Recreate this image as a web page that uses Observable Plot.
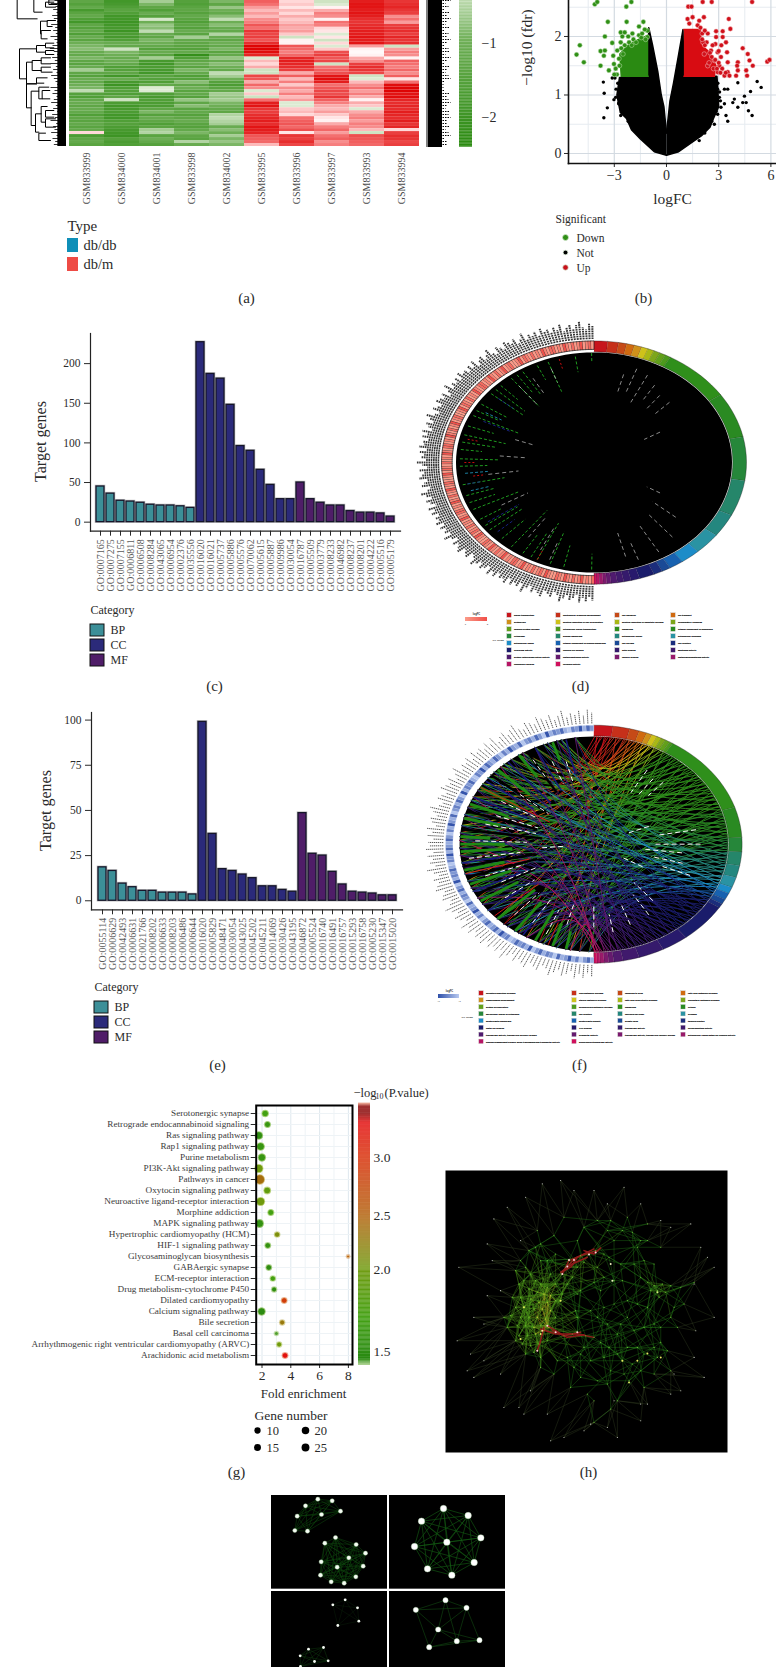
<!DOCTYPE html>
<html><head><meta charset="utf-8">
<script src="https://cdn.jsdelivr.net/npm/d3@7"></script>
<script src="https://cdn.jsdelivr.net/npm/@observablehq/plot@0.6"></script>
<style>
html,body{margin:0;padding:0;background:#fff}
#page{position:relative;width:776px;height:1667px;overflow:hidden;background:#fff}
#page svg{position:absolute;display:block;background:transparent}
</style></head><body><div id="page"></div>
<script>
// ---------- (a) heatmap
const samples=["GSM833999","GSM834000","GSM834001","GSM833998","GSM834002","GSM833995","GSM833996","GSM833997","GSM833993","GSM833994"];
const heat0=[-1.3,-1.5,-1.2,-1.8,-1.4,-1.2,-1.6,-1.9,-1.3,-1.5,-1.2,-1.6,-1.1,-1.4,-1.0,-.9,-.8,-1.1,-1.2,-.9,-1.3,-1.4,-1.1,-.6,-1.3,-1.5,-1.1,-1.2,-1.0,-.9,-.4,-1.5,-1.6,-1.2,-1.1,-1.3,-1.1,-1.2,-1.6,-1.3,-1.4,-1.2,-1.4,-1.2,.3,-1.7,-1.3,-1.2,-1.4];
const heat1=[-1.9,-1.8,-1.6,-1.4,-1.6,-1.9,-1.9,-2.0,-1.9,-1.8,-2.0,-1.7,-1.8,-1.6,-1.1,-1.2,-.3,-.9,-1.0,-1.1,-1.0,-1.2,-1.6,-1.5,-1.3,-1.9,-1.1,-1.8,-2.0,-1.6,-1.5,-1.6,-1.3,-.3,-1.7,-1.9,-1.8,-1.7,-1.9,-1.9,-1.6,-1.5,-1.7,-1.8,-1.9,-2.0,-1.5,-1.7,-1.6];
const heat2=[-.6,-.9,-1.3,-1.6,-1.1,-1.5,-.25,-1.0,-.7,-.8,-.4,-1.1,-1.3,-.9,-1.0,-1.2,-1.5,-1.1,-1.4,-.6,-1.8,-1.9,-1.7,-1.8,-1.9,-1.4,-1.5,-1.6,-1.2,-.2,-.2,-1.6,-1.8,-1.6,-1.7,-1.7,-1.3,-.9,-1.5,-1.1,-1.3,-1.6,-1.4,-.6,-.5,-1.4,-1.0,-1.2,-1.5];
const heat3=[-1.5,-1.6,-1.4,-1.3,-1.5,-1.2,-1.4,-1.6,-1.3,-1.5,-1.1,-1.4,-.6,-1.2,-1.3,-1.4,-1.5,-1.2,-2.2,-1.6,-1.3,-1.1,-1.4,-.9,-1.2,-1.6,-1.5,-.8,-1.3,-1.0,-1.4,-1.2,-1.5,-.7,-1.3,-.8,-1.4,-1.2,-1.5,-1.3,-1.1,-1.4,-1.5,-1.2,-.9,-1.3,-1.4,-.5,-1.1];
const heat4=[-.9,-1.3,-.7,-1.0,-1.2,-.8,-.4,-1.0,-.8,-1.1,-1.2,-.5,-1.1,-1.3,-1.0,-1.2,-.9,-1.4,-1.2,-.7,-1.1,-.8,-1.0,-1.2,-.4,-.6,-1.0,-1.5,-1.7,-1.4,-1.2,-.6,-.7,-.6,-.9,-1.0,-1.2,-1.3,-.5,-.4,-.5,-.6,-1.1,-.8,-1.0,-.6,-.9,-.7,-.9];
const heat5=[1.2,1.0,.7,.5,.7,.5,.8,.9,1.3,1.0,1.7,1.5,1.6,1.3,1.8,2.3,2.3,2.2,1.9,-.2,.5,.3,.6,-.3,-.3,1.5,1.3,.6,1.1,.8,-.2,.4,-.3,1.0,2.0,2.1,1.7,1.6,1.8,1.9,2.0,1.8,2.1,2.0,1.9,1.3,1.2,1.1,.5];
const heat6=[.3,.4,.2,.5,.3,.6,.4,.5,.7,.6,.7,.4,-.3,.1,.1,1.3,1.1,.9,1.1,1.9,2.0,1.9,1.8,1.6,.6,1.2,.5,.9,.4,.8,.6,.9,.5,.7,-.2,-.2,.4,.5,.3,1.0,1.2,1.3,1.1,1.4,.2,1.7,1.6,1.8,1.5];
const heat7=[-.3,-.2,.1,.6,.9,.8,.1,1.0,.9,.3,.2,-.2,.2,-.3,.3,-.2,.4,1.4,1.6,1.3,1.5,-.3,1.0,1.2,1.4,2.1,2.2,2.0,1.0,1.3,1.5,1.4,1.7,1.2,.9,.6,.5,.7,.4,.2,.1,.6,.9,1.1,.7,1.0,1.2,.8,.9];
const heat8=[2.0,2.1,2.1,2.0,2.1,2.0,1.8,1.7,1.8,1.9,2.0,2.0,2.1,2.0,2.1,.7,.1,.05,.1,.6,.8,1.6,1.8,1.7,1.5,-.3,-.2,.5,.8,1.0,.7,.9,.6,.1,.6,.4,-.2,.6,.8,.9,.7,.9,.8,.5,-.3,1.4,1.3,1.2,1.1];
const heat9=[1.7,1.8,1.9,1.7,1.6,.8,1.0,.7,1.6,1.7,1.8,1.6,1.9,1.7,1.8,-.3,.7,.9,.8,.1,1.2,1.0,.9,1.1,.8,1.2,.2,1.0,2.2,2.3,2.3,2.1,2.2,1.9,1.8,1.9,1.8,2.0,1.9,1.8,2.0,1.7,1.9,.3,1.6,1.8,1.7,1.5,1.6];
const heatColumns=[heat0,heat1,heat2,heat3,heat4,heat5,heat6,heat7,heat8,heat9];
// dendrogram brackets: parent height, two rows, two child heights
const dendro=[[50,-5,55,100,110],[100,-5,35,135,125],[120,62,100,140,122],[135,5,20,160,165],[145,-2,12,170,170],[140,60,78,165,155],[122,90,115,150,140],[57,145,235,108,78],[108,135,155,135,135],[135,128,142,160,160],[135,150,162,160,160],[95,180,210,122,122],[122,172,190,150,150],[122,200,215,150,155],[78,185,250,95,108],[108,232,248,140,130],[78,250,322,108,92],[92,272,375,115,105],[115,260,295,145,125],[125,270,295,148,148],[105,340,395,122,115],[122,318,365,140,135],[115,398,420,135,150],[135,330,350,160,160],[135,355,380,165,165]];
const leafStart=[162,150,165,158,168,155,160,170,152,164,158,166,150,162,168,156,148,160,170,155,163,150,166,158,168,152,160,165,170,150,162,156,168,160,152,166,158,170,155,163,150,167,158,162,152,168,156,164,160];
const labelEnds=[8,3,6,2,7,4,8,5,3,7,2,6,4,8,5,2,6,7,3,8,4,2,7,5,3,6,8,2,1,1,2,7,4,6,8,5,3,7,6,8,4,5,7,3,6,8,2,5,4];
const heatLegend=[["db/db","#0f8fb8"],["db/m","#ee4b45"]];

// ---------- (b) volcano
const downFC=[-5.17,-4.98,-4.75,-4.12,-3.98,-2.31,-2.02,-3.37,-3.54,-3.79,-3.54,-3.79,-3.6,-3.12,-3.06,-3.31,-3.02,-2.63,-2.54,-2.29,-1.58,-1.33,-1.96,-1.58,-1.1,-2.15,-1.1,-2.63,-2.83,-2.73,-2.92,-2.4,-2.2,-1.9,-1.75,-1.4,-1.2,-2.5,-2.7,-2.85,-2.6,-2.0,-1.45,-3.0,-1.25,-2.4];
const downP=[1.69,1.85,1.56,2.55,2.59,2.51,2.59,2.25,2.0,1.75,1.76,1.5,1.67,1.89,1.67,1.42,1.53,2.07,2.0,2.25,2.17,2.25,2.05,2.02,2.1,1.9,1.99,1.9,1.76,1.62,1.45,1.85,2.0,1.95,1.9,2.05,1.95,1.7,1.5,1.35,1.8,1.85,1.98,1.35,2.12,2.07];
const upFC=[1.25,1.44,2.08,2.6,4.92,1.21,1.31,1.5,1.88,2.15,1.79,3.58,3.67,2.85,3.23,2.85,3.23,2.37,3.42,2.81,2.31,4.38,4.67,4.77,4.96,4.1,4.06,4.1,4.0,4.58,4.63,5.79,5.92,2.94,3.48,3.13,3.52,3.04,3.52,2.94,3.33,3.62,2.56,2.17,2.37,2.75,2.05,2.1,2.2,2.5,2.6,2.8,3.0,3.2,3.1,2.2,2.05,2.7,3.4,2.9,2.45,1.95,3.0,3.15,2.65];
const upP=[2.51,2.51,2.59,2.59,2.59,2.3,2.22,2.33,2.27,2.33,2.19,2.3,2.13,2.09,2.09,1.99,1.99,2.05,1.9,1.87,1.9,1.8,1.7,1.59,1.5,1.56,1.5,1.42,1.33,1.42,1.33,1.57,1.6,1.73,1.73,1.65,1.56,1.5,1.39,1.39,1.33,1.33,1.76,1.7,1.5,1.59,2.05,1.9,1.85,1.72,1.65,1.6,1.55,1.45,1.38,2.1,1.95,1.45,1.38,1.45,1.55,2.15,1.75,1.85,1.85];
const notFC=[-3.63,-3.12,-2.96,-3.58,-3.02,-3.4,-3.6,-2.92,-2.73,-2.63,4.1,5.21,5.44,4.83,3.9,3.81,4.38,4.58,4.1,4.71,4.92,4.48,3.33,3.42,3.52,2.94,3.33,3.52,3.04,3.13,2.75,1.88,2.94,1.98,-2.8,-2.9,-2.75,-2.45,-2.2,2.95,3.05,3.1,2.85,2.6,2.2];
const notP=[1.22,1.29,1.29,1.03,.92,.78,.61,.96,.87,.65,1.21,1.23,1.13,1.06,.93,.87,.87,.87,.79,.73,.65,.98,.85,.65,.55,1.1,1.1,1.1,.96,.79,.5,.22,.67,.36,1.2,1.1,.85,.7,.55,1.2,1.05,.9,.72,.55,.35];
const cloudLeftFC=[0,-.15,-.3,-.5,-.8,-1.02,-1.05,-2.7,-2.85,-2.65,-2.3,-2,-1.5,-.7,0];
const cloudLeftP=[.35,.8,1.0,1.4,1.85,2.15,1.32,1.3,1.0,.7,.6,.4,.25,.03,-.03];
const cloudRightFC=[0,.2,.4,.7,.95,1,2.9,2.95,3.0,2.7,2.5,2,1.5,.7,0];
const cloudRightP=[.35,.9,1.2,1.7,2.12,1.32,1.32,1.1,.8,.6,.45,.3,.2,.03,-.03];
const massDownFC=[-1.05,-2.6,-2.68,-2.2,-1.6,-1.05];
const massDownP=[1.32,1.32,1.7,1.85,1.95,2.02];
const massUpFC=[1,2.75,2.85,2.4,2.0,1.95,1];
const massUpP=[1.32,1.32,1.5,1.75,1.85,2.12,2.12];

// ---------- (c) and (e) GO bars
const goC=["GO:0007165","GO:0007275","GO:0007155","GO:0006811","GO:0006508","GO:0008284","GO:0043065","GO:0006954","GO:0002376","GO:0035556","GO:0016020","GO:0016021","GO:0005737","GO:0005886","GO:0005576","GO:0070062","GO:0005615","GO:0005887","GO:0009986","GO:0030054","GO:0016787","GO:0005509","GO:0003779","GO:0008233","GO:0046982","GO:0008237","GO:0008201","GO:0004222","GO:0005516","GO:0005179"];
const countC=[45,36,27,26,24.5,22,21,21,20,18,227,187,181,148,96,90,66,47,29,29,50,29,24.5,21,21,14,12,12,11,7];
const goE=["GO:0055114","GO:0006629","GO:0042493","GO:0006631","GO:0021766","GO:0008202","GO:0006633","GO:0008203","GO:0006486","GO:0006644","GO:0016020","GO:0005829","GO:0048471","GO:0030054","GO:0043025","GO:0045202","GO:0045211","GO:0014069","GO:0030426","GO:0043195","GO:0046872","GO:0005524","GO:0016740","GO:0016491","GO:0016757","GO:0015293","GO:0016758","GO:0005230","GO:0015347","GO:0015020"];
const countE=[18.5,16.5,9.5,7.5,5.5,5.5,4.5,4.5,4.5,3.5,99,37,17.5,16.5,14.5,12.5,8,8,6,5,48.5,26,25,16,9,5,4.5,4,3,3];
const catNames=["BP","CC","MF"];
const catColors=["#3c8f98","#2b2a7a","#4f1d68"];

// ---------- (d) and (f) GO chord legends
const termsD=["signal transduction","multicellular organism development","cell adhesion","ion transport","proteolysis","positive regulation of cell proliferation","positive regulation of apoptotic process","inflammatory response","immune system process","intracellular signal transduction","membrane","integral component of membrane","cytoplasm","plasma membrane","extracellular region","extracellular exosome","extracellular space","integral component of plasma membrane","cell surface","cell junction","hydrolase activity","calcium ion binding","actin binding","peptidase activity","protein heterodimerization activity","metallopeptidase activity","heparin binding","metalloendopeptidase activity","calmodulin binding","hormone activity"];
const termsF=["oxidation-reduction process","lipid metabolic process","response to drug","fatty acid metabolic process","hippocampus development","steroid metabolic process","fatty acid biosynthetic process","cholesterol metabolic process","protein glycosylation","phospholipid metabolic process","membrane","cytosol","perinuclear region of cytoplasm","cell junction","neuronal cell body","synapse","postsynaptic membrane","postsynaptic density","growth cone","terminal bouton","metal ion binding","ATP binding","transferase activity","oxidoreductase activity","transferase activity, transferring glycosyl groups","symporter activity","transferase activity, transferring hexosyl groups","extracellular ligand-gated ion channel activity","sodium-independent organic anion transmembrane transporter activity","glucuronosyltransferase activity"];
const termColors=["#c7151c","#c6301a","#c64a17","#d06a10","#d0901a","#cfc21a","#a9b815","#7da61a","#62a01a","#4d9a1c","#2f8f1b","#2a8a22","#26873a","#25866a","#24877f","#2a93a3","#1c8cc8","#1862b0","#1a4a96","#1b2d7c","#1a1c6b","#281a6c","#351a6c","#401a6c","#4f1a6e","#651a6e","#7c1a6e","#9a1a6a","#b61565","#d0105c"];
const logfcCellsD=[3,1,2,1,4,2,1,3,1,2,4,1,2,3,1,1,2,4,1,3,2,1,3,1,2,1,4,2,1,3];
const logfcCellsF=[2,5,3,1,4,2,6,3,2,5,1,3,4,2,5,3,1,6,2,4,3,5,2,1,4,3,6,2,5,3];
const geneLabelLen=[.09,.06,.1,.07,.11,.05,.08,.1,.06,.09,.12,.07,.05,.1,.08,.06,.11,.09,.07,.1,.05,.08,.12,.06,.09,.07,.1,.06,.11,.08];
const streakGreen=[[205,.88,.55],[212,.88,.7],[218,.88,.5],[224,.87,.65],[231,.88,.6],[238,.88,.72],[244,.88,.55],[252,.88,.68],[258,.88,.6],[268,.88,.7],[272,.88,.62],[277,.88,.74],[285,.88,.6],[290,.88,.7],[296,.88,.55],[303,.88,.68],[310,.88,.6],[316,.88,.72],[322,.88,.58],[328,.88,.66],[335,.88,.75],[340,.88,.62],[352,.88,.75],[359,.9,.82],[181,.88,.75],[193,.88,.7],[199,.88,.6],[208,.88,.66],[234,.88,.62],[248,.88,.7],[281,.88,.66],[299,.88,.72],[313,.88,.62],[325,.88,.7]];
const streakWhite=[[20,.82,.6],[26,.8,.55],[32,.75,.6],[38,.7,.55],[15,.75,.6],[45,.7,.55],[150,.85,.6],[140,.8,.55],[130,.7,.5],[160,.85,.7],[165,.8,.6],[200,.85,.7],[206,.8,.6],[215,.75,.55],[330,.8,.65],[340,.82,.7],[322,.8,.6],[240,.7,.5],[262,.7,.5],[275,.62,.45],[290,.55,.42],[60,.5,.38],[120,.5,.4]];
const streakNavy=[[235,.85,.6],[295,.8,.6],[258,.85,.75],[228,.85,.7],[310,.82,.68]];
const streakCyan=[[264,.85,.7],[300,.82,.7],[254,.84,.72]];
const streakRed=[[270,.85,.78],[283,.85,.78],[345,.88,.8],[205,.88,.8],[262,.8,.72]];
const leftStops=[268,192,322,236,290,204,344,258,214,310,276,186,334,246,300,222,352,264,198,284,328,240,296,210,316,272,190,338,250,304,226,280,346,202,260,318,232,294,182,326,254,216,308,286,196,340,244,274,220,312];
const fWhiteDash=[[262,.85,.5],[272,.8,.45],[283,.75,.4],[290,.7,.4],[300,.72,.45],[310,.65,.4],[250,.78,.5],[243,.7,.42],[233,.75,.5],[222,.8,.55],[212,.78,.55],[203,.82,.6],[195,.7,.5],[330,.82,.65],[338,.75,.55],[345,.72,.55],[30,.72,.5],[36,.68,.5],[42,.7,.55],[80,.7,.45],[90,.72,.4],[97,.6,.35],[105,.62,.4],[112,.7,.5],[140,.62,.42],[148,.7,.5],[160,.72,.55],[170,.75,.6],[265,.35,.2],[120,.38,.22],[68,.4,.25],[180,.7,.5]];
const fBandGreen=[[266,.9,.55],[270,.9,.6],[274,.9,.7],[256,.9,.62],[248,.9,.6],[238,.9,.6],[226,.9,.55],[216,.9,.6],[206,.9,.62],[198,.9,.7],[192,.9,.75],[284,.9,.65],[292,.9,.62],[302,.9,.6],[314,.9,.6],[326,.9,.68],[342,.9,.74]];
const fBandNavy=[[260,.9,.6],[244,.9,.55],[232,.9,.6],[212,.9,.6],[296,.9,.5],[306,.9,.5],[320,.9,.45],[334,.9,.5],[348,.9,.6]];
const fBandBlack=[[258,.9,.4],[252,.9,.4],[278,.9,.35],[288,.9,.4],[242,.9,.45],[222,.9,.5],[310,.9,.4],[330,.9,.5]];
const fBandRed=[[302,.9,.35],[254,.9,.45],[228,.9,.5],[222,.9,.65],[200,.9,.7]];

// ---------- (g) KEGG bubble
const pathways=["Serotonergic synapse","Retrograde endocannabinoid signaling","Ras signaling pathway","Rap1 signaling pathway","Purine metabolism","PI3K-Akt signaling pathway","Pathways in cancer","Oxytocin signaling pathway","Neuroactive ligand-receptor interaction","Morphine addiction","MAPK signaling pathway","Hypertrophic cardiomyopathy (HCM)","HIF-1 signaling pathway","Glycosaminoglycan biosynthesis","GABAergic synapse","ECM-receptor interaction","Drug metabolism-cytochrome P450","Dilated cardiomyopathy","Calcium signaling pathway","Bile secretion","Basal cell carcinoma","Arrhythmogenic right ventricular cardiomyopathy (ARVC)","Arachidonic acid metabolism"];
const foldEnrichment=[2.22,2.38,1.78,1.9,1.99,1.78,1.85,2.36,1.9,2.61,1.83,3.05,2.4,7.98,2.47,2.75,2.84,3.54,1.97,3.4,3.0,3.19,3.6];
const geneNumber=[12,10,17,17,16,20,26,13,20,10,18,8,9,2,9,8,7,9,16,7,4,7,9];
const logP=[1.7,1.6,1.52,1.6,1.6,2.0,2.4,1.9,2.0,1.7,1.55,2.1,1.55,2.6,1.5,1.7,1.5,2.9,1.5,2.3,1.47,2.0,3.3];
const sizeKeys=[10,15,20,25];
const pBarTicks=[1.5,2,2.5,3];

// ---------- (h) network
const coreNodes=[[240,300],[255,320],[270,340],[285,360],[250,360],[300,370],[320,380],[265,385],[290,395],[310,400],[330,405],[240,410],[270,415],[295,425],[320,425],[345,420],[225,440],[250,440],[280,445],[305,445],[330,450],[210,465],[240,470],[265,470],[290,470],[315,475],[345,470],[230,495],[255,495],[280,500],[300,495],[325,500],[235,525],[260,525],[285,520],[310,510],[245,550],[270,555],[295,550],[320,540],[280,575],[300,590],[255,580],[225,540],[200,500],[190,470],[215,410],[235,370],[225,330],[265,270],[285,260],[300,300],[330,340],[345,370],[365,400],[380,370],[395,350],[365,340],[385,300],[400,295],[420,285],[445,280],[465,270],[490,280],[410,320],[430,305],[375,320],[360,420],[410,400],[405,450],[410,470],[320,495],[345,515],[370,525],[395,520],[410,515],[435,525],[460,530],[480,545],[505,560],[530,580],[545,600],[575,610],[610,580],[640,560],[660,545],[350,600],[380,590],[420,580],[450,600],[490,590],[510,630],[565,660],[530,720],[510,745],[460,720],[460,785],[420,650],[390,680],[340,640],[300,620],[560,560],[600,630],[650,590],[680,570],[690,630],[640,640],[500,670],[470,660],[650,390],[640,375],[665,370],[675,395],[655,410],[630,390],[690,375],[620,365],[700,440],[690,470],[660,500],[640,490],[610,500],[580,510],[560,470],[540,490],[500,490],[470,470],[490,440],[520,430],[560,420],[590,430],[620,440],[720,380],[760,365],[710,500],[730,430],[470,180],[430,200],[510,180],[370,170],[410,240],[340,225],[290,210],[520,240],[545,210],[575,215],[600,240],[620,240],[590,260],[540,310],[580,310],[610,300],[520,360],[460,365],[480,390],[420,390],[640,310],[660,260],[505,290],[470,320],[490,350],[545,360],[600,350],[450,450],[530,520],[590,560],[430,560],[400,620],[550,640],[440,700],[610,680],[320,300],[345,280],[300,250],[500,210],[560,170],[620,190]];
const outerNodes=[[55,320],[140,250],[160,175],[200,140],[255,110],[305,70],[360,60],[460,90],[550,80],[600,130],[690,200],[760,370],[800,290],[820,320],[820,470],[765,510],[790,650],[720,690],[690,700],[600,730],[530,830],[430,810],[330,840],[250,760],[190,740],[100,650],[80,630],[90,580],[50,540],[130,490],[270,690],[235,740],[320,760],[450,790],[520,720],[620,730],[700,640],[140,405],[180,390],[155,300],[240,240],[400,90],[500,130],[660,180],[750,190],[780,260],[100,470],[130,600],[180,640],[370,830],[500,800],[600,780],[760,590]];
const strandRed=[[365,340,385,300,420,285,470,270],[360,335,395,310,440,290],[380,320,400,295,460,265],[372,330,392,318,410,290],[300,505,345,520,410,520,460,530],[320,495,370,525,420,515],[290,570,300,540,310,500],[335,510,380,530,430,522],[430,270,460,280,480,262]];
const hubX=[290,320,305,345,380,400,445,465,365,410,385,240,250,360,300,650,620,515,545,660,565,510,590];
const hubY=[570,495,510,515,318,298,282,276,340,515,298,535,440,420,520,395,578,360,600,590,665,310,600];
const hubColor=["#ffd0d8","#ffd0d8","#ffe0a0","#ffd0d8","#ffd0d8","#ffd0d8","#ffd0d8","#ffd0d8","#ffd0d8","#ffd0d8","#ffd0d8","#e8e860","#e8e860","#e8e860","#e8e860","#d8f080","#e8e860","#f0f0c0","#e8e860","#e8e860","#d8e860","#f0f0c0","#e8e860"];

// ---------- (i) modules
const modTL1X=[157,200,120,225,95,168,88,126],modTL1Y=[26,31,46,62,77,72,120,122];
const modTL2X=[210,178,272,300,250,167,293,215,165,271,197,236],modTL2Y=[141,158,162,188,202,214,227,230,254,259,274,278];
const modTRX=[534,608,468,646,544,447,626,486,559],modTRY=[54,75,92,142,155,168,216,235,254];
const modBL1X=[239,202,276,280,217],modBL1Y=[328,343,352,392,405];
const modBL2X=[174,129,104,188,147,105],modBL2Y=[471,476,496,511,513,528];
const modBRX=[540,451,603,518,642,574,491],modBRY=[329,358,352,417,449,452,470];
const modBREdges=[[0,1],[0,2],[1,2],[0,3],[1,3],[2,3],[2,4],[3,4],[3,5],[4,5],[3,6],[5,6],[4,6],[0,5],[2,5],[1,6]];

// ========== drawing ==========
const page=document.getElementById("page");
const serif='"Liberation Serif","DejaVu Serif",serif';
const ink="#2a2a2a";
function place(plot,left,top){plot.style.left=left+"px";plot.style.top=top+"px";page.appendChild(plot);return plot;}
function base(o){return Object.assign({margin:0,marginTop:0,marginRight:0,marginBottom:0,marginLeft:0,style:{fontFamily:serif,color:ink,background:"transparent",overflow:"visible"}},o);}

// (a)
const heatRows=samples.flatMap((s,j)=>heatColumns[j].map((v,i)=>({s,i,v})));
const heatScale={type:"linear",domain:[-2.4,-1,-.2,0,.3,1,2.2],range:["#2a8a10","#6dae55","#dcebd2","#ffffff","#ffd8d8","#f46f6f","#e00c0c"],interpolate:"rgb"};
place(Plot.plot(base({width:356,height:206,marginBottom:60,color:heatScale,
  x:{domain:samples,padding:0,axis:null},y:{domain:d3.range(49),padding:0,axis:null},
  marks:[Plot.cell(heatRows,{x:"s",y:"i",fill:"v"}),
    Plot.axisX({anchor:"bottom",tickRotate:-90,tickSize:0,tickPadding:6,fontSize:10,label:null,fill:"#4a4a4a"})]})),66,0);
const dendroLines=dendro.flatMap((b,k)=>[[b[3],b[1]],[b[0],b[1]],[b[0],b[2]],[b[4],b[2]]].map(p=>({k,x:p[0],y:p[1]})));
place(Plot.plot(base({width:67,height:147,x:{domain:[0,201],axis:null},y:{domain:[0,441],range:[0,147],axis:null},
  marks:[Plot.line(dendroLines,{x:"x",y:"y",z:"k",stroke:"#000",strokeWidth:1,clip:true}),
    Plot.link(leafStart,{x1:d=>d,x2:174,y1:(d,i)=>i*9,y2:(d,i)=>i*9,stroke:"#000",strokeWidth:.8}),
    Plot.rectX([0],{x1:172,x2:198,y1:0,y2:438,fill:"#000"})]})),0,0);
place(Plot.plot(base({width:28,height:147,x:{domain:[0,28],axis:null},y:{domain:[0,49],range:[0,147],axis:null},
  marks:[Plot.rectX([0],{x1:2,x2:16,y1:0,y2:49,fill:"#000"}),
    Plot.ruleX([.5],{y1:0,y2:49,stroke:"#000",strokeWidth:1}),
    Plot.link(labelEnds,{x1:16,x2:d=>16+d,y1:(d,i)=>i,y2:(d,i)=>i,stroke:"#000",strokeWidth:1.1,strokeDasharray:"1.5 1"})]})),426,0);
place(Plot.plot(base({width:50,height:147,marginRight:37,color:heatScale,
  x:{domain:[0,1],axis:null},y:{domain:[-2.4,-.42],range:[146.7,0]},
  marks:[Plot.rect(d3.range(-2.4,-.42,.02),{x1:0,x2:1,y1:d=>d,y2:d=>d+.021,fill:d=>d}),
    Plot.axisY({anchor:"right",ticks:[-1,-2],tickSize:0,tickPadding:9,fontSize:14,label:null,tickFormat:d=>"\u2212"+Math.abs(d)})]})),459,0);

// (b)
const zip=(a,b)=>a.map((x,i)=>({x,y:b[i]}));
const halfTicksX=[-4.5,-1.5,1.5,4.5], halfTicksY=[.5,1.5,2.5];
place(Plot.plot(base({width:246,height:190,marginLeft:38,marginBottom:27,
  x:{domain:[-5.632,6.322]},y:{domain:[-.171,2.615]},
  marks:[
    Plot.gridX(halfTicksX,{stroke:"#e6ebf0",strokeOpacity:1}),Plot.gridY(halfTicksY,{stroke:"#e6ebf0",strokeOpacity:1}),
    Plot.gridX([-3,0,3,6],{stroke:"#d3dae1",strokeOpacity:1,strokeWidth:1.2}),Plot.gridY([0,1,2],{stroke:"#d3dae1",strokeOpacity:1,strokeWidth:1.2}),
    Plot.line(zip(cloudLeftFC,cloudLeftP),{x:"x",y:"y",fill:"#000",stroke:"#000"}),
    Plot.line(zip(cloudRightFC,cloudRightP),{x:"x",y:"y",fill:"#000",stroke:"#000"}),
    Plot.dot(zip(notFC,notP),{x:"x",y:"y",r:1.7,fill:"#000"}),
    Plot.line(zip(massDownFC,massDownP),{x:"x",y:"y",fill:"#2a8a12",stroke:"#2a8a12"}),
    Plot.line(zip(massUpFC,massUpP),{x:"x",y:"y",fill:"#d80c12",stroke:"#d80c12"}),
    Plot.dot(zip(downFC,downP),{x:"x",y:"y",r:2.3,fill:"#2f8f16",stroke:"#bfe0b0",strokeWidth:.5,clip:true}),
    Plot.dot(zip(upFC,upP),{x:"x",y:"y",r:2.3,fill:"#d0101a",stroke:"#f4c0c0",strokeWidth:.5,clip:true}),
    Plot.axisX({ticks:[-3,0,3,6],tickSize:4,tickPadding:3,fontSize:14,label:null,tickFormat:d=>d<0?"\u2212"+(-d):""+d}),
    Plot.axisY({ticks:[0,1,2],tickSize:4,tickPadding:3,fontSize:14,label:null,tickFormat:d=>""+d}),
    Plot.frame({anchor:"left",stroke:"#111",strokeWidth:1.6}),Plot.frame({anchor:"bottom",stroke:"#111",strokeWidth:1.6})
  ]})),530,0);

// (c),(e)
function bars(names,values,yDomain,yTicks,left,top,width,height,marginLeft,marginBottom){
  const rows=names.map((n,i)=>({n,v:values[i],c:catNames[Math.floor(i/10)]}));
  return place(Plot.plot(base({width,height,marginLeft,marginBottom,
    x:{domain:names,padding:.22},y:{domain:yDomain},
    color:{domain:catNames,range:catColors},
    marks:[
      Plot.barY(rows,{x:"n",y:"v",stroke:"#c4c4c4",strokeWidth:2.6}),
      Plot.barY(rows,{x:"n",y:"v",fill:"c",stroke:"#16162a",strokeWidth:1.3}),
      Plot.axisX({tickRotate:-90,tickSize:5,tickPadding:3,fontSize:10,label:null,fill:"#5a5a5a"}),
      Plot.axisY({ticks:yTicks,tickSize:6,tickPadding:4,fontSize:11.5,label:null}),
      Plot.frame({anchor:"left",stroke:"#222",strokeWidth:1.2}),Plot.frame({anchor:"bottom",stroke:"#222",strokeWidth:1.2})
    ]})),left,top);
}
bars(goC,countC,[-11.4,238],[0,50,100,150,200],0,333,400,265,90,67.3);
bars(goE,countE,[-5,104.2],[0,25,50,75,100],0,712.3,402,265,91,67.7);

// (d),(f)
const rad=Math.PI/180;
const polar=(r,a)=>[r*Math.sin(a*rad),r*Math.cos(a*rad)];
function cell(id,r0,r1,a0,a1,color){
  const n=Math.max(1,Math.ceil((a1-a0)/3)),p=[];
  for(let i=0;i<=n;i++)p.push(polar(r1,a0+(a1-a0)*i/n));
  for(let i=n;i>=0;i--)p.push(polar(r0,a0+(a1-a0)*i/n));
  return p.map(q=>({id,x:q[0],y:q[1],color}));
}
function chordBase(values,innerR,leftR0,cells,cellColor,cellStroke,cellW,nCells,labelStroke,labelW,labelDash,labelExtra){
  const total=d3.sum(values);let a=0;const ring=[];
  const spans=values.map((v,i)=>{const s=[a,a+v/total*180];a=s[1];ring.push(...cell("t"+i,innerR,1,s[0],s[1],termColors[i]));return s;});
  const left=[];const labels=[];
  for(let i=0;i<nCells;i++){
    const a0=180+i*180/nCells,a1=a0+180/nCells,v=cells[i%cells.length];
    left.push(...cell("g"+i,leftR0,1,a0,a1,cellColor(v)));
    const m=(a0+a1)/2,len=geneLabelLen[i%geneLabelLen.length]+labelExtra,p=polar(1.015,m),q=polar(1.025+len,m);
    labels.push({x1:p[0],y1:p[1],x2:q[0],y2:q[1]});
  }
  const disc=cell("disc",0,.905,0,360,"#000");
  return {spans,marks:[
    Plot.line(disc,{x:"x",y:"y",z:"id",fill:"#000"}),
    Plot.line(ring,{x:"x",y:"y",z:"id",fill:"color",stroke:"#111",strokeWidth:.35}),
    Plot.line(left,{x:"x",y:"y",z:"id",fill:"color",stroke:cellStroke,strokeWidth:cellW}),
    Plot.link(labels,{x1:"x1",y1:"y1",x2:"x2",y2:"y2",stroke:labelStroke,strokeWidth:labelW,strokeDasharray:labelDash})
  ]};
}
function streak(list,color,w,dash){
  return Plot.link(list.map(s=>{const p=polar(s[1],s[0]),q=polar(s[2],s[0]);return {x1:p[0],y1:p[1],x2:q[0],y2:q[1]};}),
    {x1:"x1",y1:"y1",x2:"x2",y2:"y2",stroke:color,strokeWidth:w,strokeDasharray:dash});
}
const redRamp=d3.scaleLinear([1,4],["#fb9a88","#f0504a"]);
const blueRamp=d3.scaleLinear([1,6],["#b4c6ee","#3353ab"]);
const chordD=chordBase(countC,.91,.93,logfcCellsD,redRamp,"#1a1a1a",.7,165,"#333",2,"1.6 .7",.02);
place(Plot.plot(base({width:340,height:310,color:{type:"identity"},
  x:{domain:[-1.1377,1.0918],axis:null},y:{domain:[-1.299,1.25],axis:null},
  marks:[...chordD.marks,
    streak(streakGreen,"#1f9a1f",1,"3 2"),streak(streakNavy,"#1c2a9a",.8,"3 2"),streak(streakCyan,"#22a0c8",.8,"3 2"),
    streak(streakRed,"#e01010",.9,"2 2"),streak(streakWhite,"#e8e8e8",.6,"4 3")]})),420,310);

const chordF=chordBase(countE,.91,.95,logfcCellsF,blueRamp,"#f4f7ff",.3,120,"#2a2a2a",.8,"1.3 .7",0);
const chordLines=[];let stopIdx=0;
d3.range(30).forEach(t=>{
  const s=chordF.spans[t],n=Math.max(2,Math.round(countE[t]*.5));
  for(let k=0;k<n;k++){
    const a=s[0]+(s[1]-s[0])*(k+.5)/n,b=leftStops[stopIdx++%leftStops.length];
    const P=polar(.905,a),Q=polar(.905,b),id=t+"_"+k,color=termColors[t];
    chordLines.push({id,color,x:P[0],y:P[1]},{id,color,x:(P[0]+Q[0])*.28,y:(P[1]+Q[1])*.28},{id,color,x:Q[0],y:Q[1]});
  }
});
place(Plot.plot(base({width:340,height:310,color:{type:"identity"},
  x:{domain:[-1.1685,1.1240],axis:null},y:{domain:[-1.2718,1.3336],axis:null},
  marks:[...chordF.marks,
    Plot.line(chordLines,{x:"x",y:"y",z:"id",stroke:"color",strokeWidth:.9,curve:"bundle"}),
    streak(fBandBlack,"#000",2.4),
    streak(fBandGreen,"#1f8a14",2.8),
    streak(fBandNavy,"#17197a",1.6),
    streak(fBandRed,"#ee1414",.9),
    streak(fWhiteDash,"#fafafa",1,"5 3")]})),420,685);

// (g)
const bubbleRows=pathways.map((p,i)=>({p,fe:foldEnrichment[i],n:geneNumber[i],lp:logP[i]}));
const pScale={type:"linear",domain:[1.457,1.475,1.7,2.0,2.5,3.0,3.3,3.38,3.44,3.47],range:["#a9d08e","#2a8a12","#42a012","#6f9a0e","#b3620e","#d8320c","#e31010","#8c0a0a","#8c0a0a","#f6a98f"],interpolate:"rgb"};
place(Plot.plot(base({width:352,height:290,marginLeft:255.7,marginTop:5,marginBottom:26,
  x:{domain:[1.596,8.286]},y:{type:"point",domain:pathways,range:[12,256],padding:0},
  r:{domain:[0,26],range:[0,4.7]},color:pScale,
  marks:[
    Plot.gridX([3,5,7],{stroke:"#eef3f6",strokeOpacity:1}),Plot.gridX([2,4,6,8],{stroke:"#dfe8ee",strokeOpacity:1}),
    Plot.gridY(pathways,{stroke:"#eef3f6",strokeOpacity:1}),
    Plot.dot(bubbleRows,{x:"fe",y:"p",r:d=>d.n+5,fill:"lp",fillOpacity:.35}),
    Plot.dot(bubbleRows,{x:"fe",y:"p",r:"n",fill:"lp",stroke:"#f2f2a8",strokeWidth:.6,strokeOpacity:.7}),
    Plot.axisY({anchor:"left",tickSize:5,tickPadding:2,fontSize:9.2,label:null,fill:"#3a3a3a"}),
    Plot.axisX({ticks:[2,4,6,8],tickSize:4,tickPadding:2,fontSize:13.5,label:null,tickFormat:d=>""+d}),
    Plot.frame({stroke:"#000",strokeWidth:2})
  ]})),0,1100);
const pBarPos=d3.scaleLinear([1.457,1.5,2,2.5,3,3.47],[265,251,169,115,57,3]);
place(Plot.plot(base({width:56,height:270,color:pScale,
  x:{type:"identity",axis:null},y:{type:"identity",axis:null},
  marks:[Plot.rect(d3.range(1.457,3.47,.005),{x1:1,x2:13,y1:d=>pBarPos(d+.006),y2:d=>pBarPos(d),fill:d=>d}),
    Plot.text(pBarTicks,{x:16,y:d=>pBarPos(d),text:d=>d.toFixed(1),textAnchor:"start",fontSize:13.5,fontFamily:serif,fill:ink})]})),357,1100);

// (h)
const flat=(list,g)=>list.flatMap((a,k)=>d3.range(0,a.length,2).map(i=>({id:g+k,x:a[i],y:a[i+1]})));
const dist=(a,b)=>Math.hypot(a[0]-b[0],a[1]-b[1]);
const degree=coreNodes.map(a=>coreNodes.filter(b=>dist(a,b)<48).length-1);
const webEdges=[];
coreNodes.forEach((a,i)=>coreNodes.forEach((b,j)=>{
  if(j<=i)return;const len=dist(a,b);
  if(len<48||(len<130&&(i+j)%5===0)){const d=(degree[i]+degree[j])/2;
    webEdges.push({x1:a[0],y1:a[1],x2:b[0],y2:b[1],c:d>=10?"#a8b020":d>=5?"#4f9e1c":"#2a8a1c"});}
}));
const outerEdges=outerNodes.flatMap(a=>d3.sort(coreNodes,b=>dist(a,b)).slice(0,3).map(b=>({x1:a[0],y1:a[1],x2:b[0],y2:b[1]})));
place(Plot.plot(base({width:282,height:282,x:{domain:[15,860],axis:null},y:{domain:[875,30],axis:null},color:{type:"identity"},
  marks:[Plot.frame({fill:"#000"}),
    Plot.link(outerEdges,{x1:"x1",y1:"y1",x2:"x2",y2:"y2",stroke:"#3e4c2a",strokeWidth:.35}),
    Plot.link(webEdges,{x1:"x1",y1:"y1",x2:"x2",y2:"y2",stroke:"c",strokeWidth:.4,strokeOpacity:.85}),
    Plot.line(flat(strandRed,"r"),{x:"x",y:"y",z:"id",stroke:"#8f1a1a",strokeWidth:1.5}),
    Plot.dot(outerNodes.map(d=>({x:d[0],y:d[1]})),{x:"x",y:"y",r:.55,fill:"#cfcfcf"}),
    Plot.dot(coreNodes.map((d,i)=>({x:d[0],y:d[1],c:degree[i]>=10?"#d0d040":"#6fb83a"})),{x:"x",y:"y",r:.55,fill:"c"}),
    Plot.dot(hubX.map((x,i)=>({x,y:hubY[i],c:hubColor[i]})),{x:"x",y:"y",r:1,fill:"c"})
  ]})),445,1170);

// (i)
const pairs=(X,Y)=>{const o=[];for(let a=0;a<X.length;a++)for(let b=a+1;b<X.length;b++)o.push({x1:X[a],y1:Y[a],x2:X[b],y2:Y[b]});return o;};
const modulePanels=[[18,15,366,296],[372,15,720,296],[18,303,366,531],[372,303,720,531]];
const brEdges=modBREdges.map(e=>({x1:modBRX[e[0]],y1:modBRY[e[0]],x2:modBRX[e[1]],y2:modBRY[e[1]]}));
place(Plot.plot(base({width:250,height:177,x:{domain:[0,750],axis:null},y:{domain:[531,0],axis:null},
  marks:[
    Plot.rect(modulePanels,{x1:d=>d[0],y1:d=>d[1],x2:d=>d[2],y2:d=>d[3],fill:"#000"}),
    Plot.link(pairs(modTL1X,modTL1Y),{x1:"x1",y1:"y1",x2:"x2",y2:"y2",stroke:"#0f4a0f",strokeWidth:.5}),
    Plot.link(pairs(modTL2X,modTL2Y),{x1:"x1",y1:"y1",x2:"x2",y2:"y2",stroke:"#0f4a0f",strokeWidth:.5}),
    Plot.link(pairs(modTRX,modTRY),{x1:"x1",y1:"y1",x2:"x2",y2:"y2",stroke:"#125a12",strokeWidth:.65}),
    Plot.link(pairs(modBL1X,modBL1Y),{x1:"x1",y1:"y1",x2:"x2",y2:"y2",stroke:"#0c260c",strokeWidth:.4}),
    Plot.link(pairs(modBL2X,modBL2Y),{x1:"x1",y1:"y1",x2:"x2",y2:"y2",stroke:"#0e380e",strokeWidth:.5}),
    Plot.link(brEdges,{x1:"x1",y1:"y1",x2:"x2",y2:"y2",stroke:"#124a12",strokeWidth:.6}),
    Plot.dot(zip(modTL1X.concat(modTL2X),modTL1Y.concat(modTL2Y)),{x:"x",y:"y",r:2.1,fill:"#f6fbf4",stroke:"#9fca9a",strokeWidth:.4}),
    Plot.dot(zip(modTRX,modTRY),{x:"x",y:"y",r:3.2,fill:"#fff",stroke:"#b5d8b0",strokeWidth:.4}),
    Plot.dot(zip(modBL1X.concat(modBL2X),modBL1Y.concat(modBL2Y)),{x:"x",y:"y",r:1.4,fill:"#f6fbf4"}),
    Plot.dot(zip(modBRX,modBRY),{x:"x",y:"y",r:2.6,fill:"#fff",stroke:"#b5d8b0",strokeWidth:.4})
  ]})),265,1490);

// titles, panel letters and legends on a page-sized overlay
const T=(rows,o)=>Plot.text(rows,Object.assign({x:d=>d[0],y:d=>d[1],text:d=>d[2],textAnchor:"start",fill:ink,fontFamily:serif},o));
const termLegend=(terms,xs,y0,dy)=>terms.map((t,i)=>({t,c:termColors[i],x:xs[i%4],y:y0+Math.floor(i/4)*dy}));
const legD=termLegend(termsD,[509,558,617,673],615,7);
const legF=termLegend(termsF,[481,574,620,683],993,6.9);
const swatchRows=[
  [67,238,78,252,heatLegend[0][1]],[67,257,78,271,heatLegend[1][1]],
  ...catColors.map((c,i)=>[90,624+15*i,104,636+15*i,c]),
  ...catColors.map((c,i)=>[94,1001+15*i,108,1013+15*i,c])
];
const legendText={textAnchor:"start",fontSize:2.2,fontWeight:"bold",fontFamily:"Liberation Sans",fill:"#000",stroke:"#000",strokeWidth:.12};
const over=Plot.plot(base({width:776,height:1667,x:{type:"identity",axis:null},y:{type:"identity",axis:null},color:{type:"identity"},
  marks:[
    Plot.rect(swatchRows,{x1:d=>d[0],y1:d=>d[1],x2:d=>d[2],y2:d=>d[3],fill:d=>d[4],stroke:d=>d[0]<80?"none":"#111",strokeWidth:1}),
    Plot.rect(legD,{x1:d=>d.x-2.2,x2:d=>d.x+2.2,y1:d=>d.y-2.2,y2:d=>d.y+2.2,fill:"c",stroke:"#bbb",strokeWidth:.3}),
    Plot.rect(legF,{x1:d=>d.x-2.2,x2:d=>d.x+2.2,y1:d=>d.y-2.2,y2:d=>d.y+2.2,fill:"c",stroke:"#bbb",strokeWidth:.3}),
    Plot.text(legD,{x:d=>d.x+4.5,y:"y",text:"t",...legendText}),
    Plot.text(legF,{x:d=>d.x+4.5,y:"y",text:"t",...legendText}),
    Plot.rect(d3.range(0,22),{x1:d=>465+d,x2:d=>466+d,y1:617,y2:621,fill:d=>redRamp(1+d/7)}),
    Plot.rect(d3.range(0,21),{x1:d=>438+d,x2:d=>439+d,y1:994,y2:998,fill:d=>blueRamp(6-d/4)}),
    T([[476,614,"logFC"],[449,991,"logFC"]],{textAnchor:"middle",fontSize:2.6,fontWeight:"bold",fontFamily:"Liberation Sans"}),
    T([[492,640,"GO Terms"],[461,1017,"GO Terms"]],{fontSize:2.4,fontWeight:"bold",fontFamily:"Liberation Sans"}),
    T([[465,624,"1"],[487,624,"3"],[438,1001,"\u22126"],[459,1001,"\u22121"]],{textAnchor:"middle",fontSize:2.4,fontFamily:"Liberation Sans"}),
    T([[67,226,"Type"]],{fontSize:15}),
    T([[83,245,heatLegend[0][0]],[83,264,heatLegend[1][0]]],{fontSize:14.5}),
    T([[246,298,"(a)"],[643,298,"(b)"],[214,686,"(c)"],[580,686,"(d)"],[217,1065,"(e)"],[579,1065,"(f)"],[236,1472,"(g)"],[588,1472,"(h)"]],{textAnchor:"middle",fontSize:15}),
    T([[527,47,"\u2212log10 (fdr)"]],{textAnchor:"middle",rotate:-90,fontSize:15.5}),
    T([[672,199,"logFC"]],{textAnchor:"middle",fontSize:15.5}),
    T([[555,219,"Significant"]],{fontSize:11.5}),
    T([[576,238,"Down"],[576,253,"Not"],[576,268,"Up"]],{fontSize:11.5}),
    Plot.dot([[565,237,"#2f8f16",2.6],[565,252,"#000",1.6],[565,267,"#c8101a",2.2]],{x:d=>d[0],y:d=>d[1],r:d=>d[3],fill:d=>d[2],stroke:"#d6e8d0",strokeWidth:.7}),
    T([[40,441,"Target genes"],[45,810,"Target genes"]],{textAnchor:"middle",rotate:-90,fontSize:16}),
    T([[90,610,"Category"],[94,987,"Category"]],{fontSize:12}),
    T(catNames.map((c,i)=>[110,630+15*i,c]),{fontSize:12}),
    T(catNames.map((c,i)=>[114,1007+15*i,c]),{fontSize:12}),
    T([[353,1092,"\u2212log"],[384,1092,"(P.value)"]],{fontSize:12.5}),
    T([[375,1096,"10"]],{fontSize:8}),
    T([[303,1393,"Fold enrichment"]],{textAnchor:"middle",fontSize:13}),
    T([[254,1415,"Gene number"]],{fontSize:13.5}),
    Plot.dot(sizeKeys,{x:(d,i)=>i<2?257:305,y:(d,i)=>i%2?1447:1430,r:d=>Math.sqrt(d/26)*4.7,fill:"#000"}),
    T(sizeKeys.map((d,i)=>[i<2?266:314,i%2?1447:1430,String(d)]),{fontSize:12.5})
  ]}));
place(over,0,0);over.style.pointerEvents="none";
</script></body></html>
